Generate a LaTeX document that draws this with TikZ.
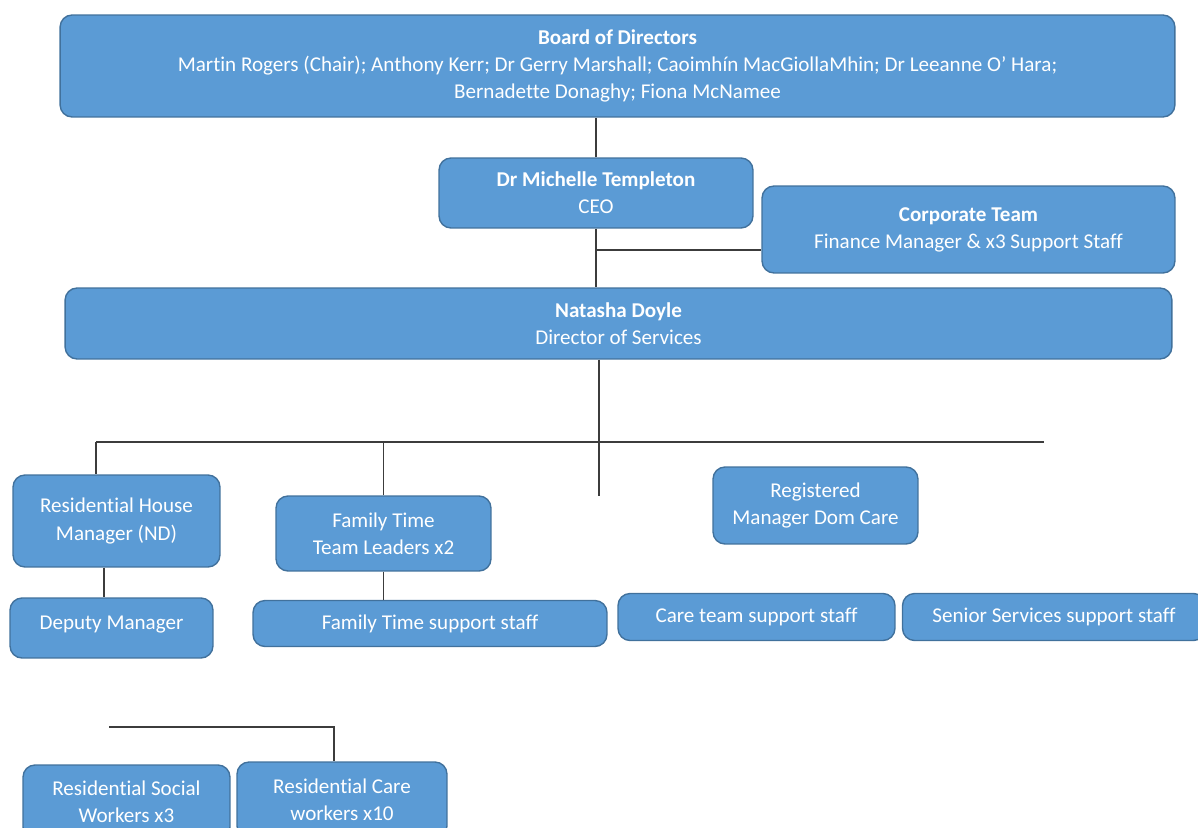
\documentclass[tikz,border=0pt]{standalone}
\usepackage{fontspec}
\setmainfont{Carlito}[Ligatures={NoCommon}]
\usepackage{xcolor}
\definecolor{boxfill}{RGB}{91,155,213}
\definecolor{boxline}{RGB}{65,113,156}
\definecolor{linkgray}{RGB}{60,60,60}

\begin{document}
\begin{tikzpicture}[
    x=0.02cm, y=-0.02cm,
    box/.style={rectangle, rounded corners=0.24cm, draw=boxline, line width=0.8pt, fill=boxfill,
        text=white, align=center, inner sep=0pt, font=\fontsize{12}{15.4}\selectfont},
    link/.style={draw=linkgray, line width=0.6pt}
]
    \useasboundingbox (0,0) rectangle (1198,828);

    % top of the chart
    \node[box, minimum width=22.3cm, minimum height=2.04cm] (board) at (617.5,66)
        {\textbf{Board of Directors}\\Martin Rogers (Chair); Anthony Kerr; Dr Gerry Marshall; Caoimhín MacGiollaMhin; Dr Leeanne O’ Hara;\\Bernadette Donaghy; Fiona McNamee};
    \node[box, minimum width=6.28cm, minimum height=1.4cm] (ceo) at (596,193)
        {\textbf{Dr Michelle Templeton}\\CEO};
    \node[box, minimum width=8.26cm, minimum height=1.74cm] (corp) at (968.5,229.5)
        {\textbf{Corporate Team}\\Finance Manager \& x3 Support Staff};
    \node[box, minimum width=22.14cm, minimum height=1.42cm] (dos) at (618.5,323.5)
        {\textbf{Natasha Doyle}\\Director of Services};

    % services
    \node[box, minimum width=4.14cm, minimum height=1.84cm] (rhm) at (116.5,521)
        {Residential House\\Manager (ND)};
    \node[box, minimum width=4.3cm, minimum height=1.5cm] (ftl) at (383.5,533.5)
        {Family Time\\Team Leaders x2};
    \node[box, minimum width=4.1cm, minimum height=1.54cm] (reg) at (815.5,505.5)
        {Registered\\Manager Dom Care};

    % support staff
    \node[box, minimum width=4.06cm, minimum height=1.2cm] (dep) at (111.5,628)
        {\raisebox{0.22cm}{Deputy Manager}};
    \node[box, minimum width=7.08cm, minimum height=0.92cm] (fts) at (430,623.5)
        {Family Time support staff};
    \node[box, minimum width=5.54cm, minimum height=0.94cm] (cts) at (756.5,617)
        {Care team support staff};
    \node[box, minimum width=6.06cm, minimum height=0.94cm] (sss) at (1054,617)
        {Senior Services support staff};

    % residential workers
    \node[box, minimum width=4.14cm, minimum height=1.48cm] (rsw) at (126.5,802)
        {Residential Social\\Workers x3};
    \node[box, minimum width=4.2cm, minimum height=1.52cm] (rcw) at (342,800)
        {Residential Care\\workers x10};

    % loose ends of the lines
    \coordinate (cj) at (597,250);
    \coordinate (dtail) at (599,496);
    \coordinate (busL) at (96,442);
    \coordinate (busR) at (1044,442);
    \coordinate (resL) at (109,727);

    \draw[link] (ceo.north) -- (ceo.north |- board.south);
    \draw[link] (ceo.south) -- (ceo.south |- dos.north);
    \draw[link] (cj) -- (cj -| corp.west);
    \draw[link] (dos.south -| dtail) -- (dtail);
    \draw[link] (busL) -- (busR);
    \draw[link] (busL) -- (busL |- rhm.north);
    \draw[link] (ftl.north) -- (ftl.north |- busL);
    \draw[link] ([xshift=-0.25cm]rhm.south) -- ([xshift=-0.25cm]rhm.south |- dep.north);
    \draw[link] (ftl.south) -- (ftl.south |- fts.north);
    \draw[link] (resL) -| ([xshift=-0.16cm]rcw.north);
\end{tikzpicture}
\end{document}
